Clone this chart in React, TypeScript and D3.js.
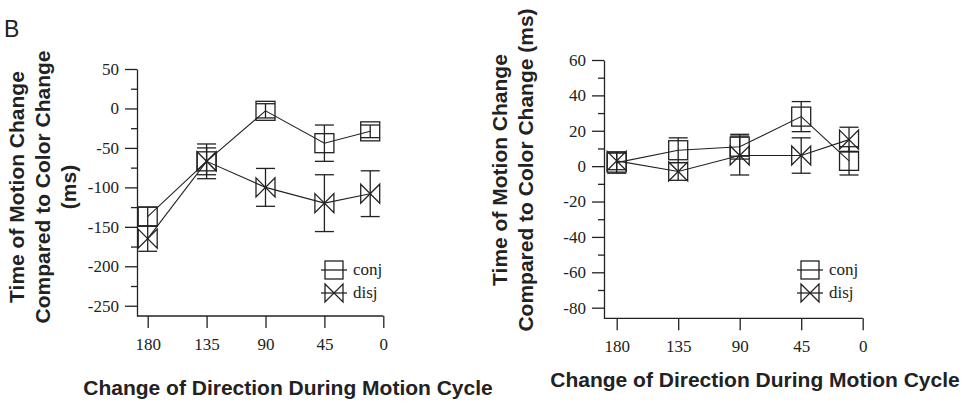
import React, { useEffect, useRef } from "react";
import * as d3 from "d3";

// direction change (deg) for each point
const angles = [180, 135, 90, 45, 10];
const xTickValues = [180, 135, 90, 45, 0];

// panel 1 (left)
const leftConj = [-137, -67, -3, -44, -29];
const leftConjErr = [12, 22, 9, 23, 8];
const leftDisj = [-165, -67, -100, -120, -108];
const leftDisjErr = [16, 17, 24, 36, 29];
const leftYTicks = [50, 0, -50, -100, -150, -200, -250];
const leftYMinor = [25, -25, -75, -125, -175, -225];

// panel 2 (right)
const rightConj = [2, 9, 11, 28, 3];
const rightConjErr = [6, 7, 7, 8.5, 8];
const rightDisj = [3, -3, 6, 6, 15];
const rightDisjErr = [5, 5, 11, 10, 7];
const rightYTicks = [60, 40, 20, 0, -20, -40, -60, -80];
const rightYMinor = [50, 30, 10, -10, -30, -50, -70];

const seriesNames = ["conj", "disj"];

const INK = "#222";
const SERIF = "'Liberation Serif', 'Times New Roman', 'DejaVu Serif', serif";
const SANS = "'Liberation Sans', Arial, sans-serif";

function drawMarker(g, kind, cx, cy, s) {
  const h = s / 2;
  if (kind === "conj") {
    g.append("rect")
      .attr("x", cx - h).attr("y", cy - h)
      .attr("width", s).attr("height", s)
      .attr("fill", "none").attr("stroke", INK).attr("stroke-width", 1.3);
  } else {
    // bow tie
    g.append("path")
      .attr("d", `M${cx - h},${cy - h}L${cx + h},${cy + h}L${cx + h},${cy - h}L${cx - h},${cy + h}Z`)
      .attr("fill", "none").attr("stroke", INK).attr("stroke-width", 1.3);
  }
}

function drawPanel(svg, cfg) {
  const x = d3.scaleLinear().domain([0, 180]).range([cfg.x0, cfg.x180]);
  const y = d3.scaleLinear().domain(cfg.yDomain).range([cfg.yBottom, cfg.yTop]);
  const g = svg.append("g");

  // axes
  const yAxis = g.append("g")
    .attr("transform", `translate(${cfg.axisX},0)`)
    .call(d3.axisLeft(y).tickValues(cfg.yTicks).tickSize(12).tickSizeOuter(0).tickPadding(6));
  g.append("g")
    .attr("transform", `translate(${cfg.axisX},0)`)
    .call(d3.axisLeft(y).tickValues(cfg.yMinor).tickSize(6).tickSizeOuter(0).tickFormat(() => ""))
    .call((a) => a.select(".domain").remove())
    .selectAll("line").attr("stroke", INK).attr("stroke-width", 1.3);

  const xAxis = g.append("g")
    .attr("transform", `translate(0,${cfg.yBottom})`)
    .call(d3.axisBottom(x).tickValues(xTickValues).tickSize(12).tickSizeOuter(0).tickPadding(10));
  xAxis.select(".domain").attr("d", `M${cfg.axisX},0H${x(0)}`);

  [yAxis, xAxis].forEach((a) => {
    a.attr("font-family", SERIF).attr("font-size", 17);
    a.selectAll("line, path").attr("stroke", INK).attr("stroke-width", 1.3);
    a.selectAll("text").attr("font-family", SERIF).attr("font-size", 17).attr("fill", INK);
  });
  yAxis.selectAll("text").text((d) => String(d));

  // series
  const series = [
    { name: "conj", vals: cfg.conj, errs: cfg.conjErr },
    { name: "disj", vals: cfg.disj, errs: cfg.disjErr },
  ];
  const line = d3.line().x((d) => x(d[0])).y((d) => y(d[1]));
  const ms = 19;

  series.forEach((s) => {
    const pts = angles.map((a, i) => [a, s.vals[i]]);
    g.append("path")
      .attr("d", line(pts))
      .attr("fill", "none").attr("stroke", INK).attr("stroke-width", 1.1);

    angles.forEach((a, i) => {
      const cx = x(a);
      const top = y(s.vals[i] + s.errs[i]);
      const bot = y(s.vals[i] - s.errs[i]);
      g.append("line").attr("x1", cx).attr("x2", cx).attr("y1", top).attr("y2", bot)
        .attr("stroke", INK).attr("stroke-width", 1.3);
      [top, bot].forEach((yy) => {
        g.append("line").attr("x1", cx - ms / 2).attr("x2", cx + ms / 2).attr("y1", yy).attr("y2", yy)
          .attr("stroke", INK).attr("stroke-width", 1.3);
      });
      drawMarker(g, s.name, cx, y(s.vals[i]), ms);
    });
  });

  // legend
  seriesNames.forEach((n, i) => {
    const ly = cfg.legendY + i * 23;
    g.append("line").attr("x1", cfg.legendX - 13).attr("x2", cfg.legendX + 13)
      .attr("y1", ly).attr("y2", ly).attr("stroke", INK).attr("stroke-width", 1.3);
    drawMarker(g, n, cfg.legendX, ly, 18);
    g.append("text").attr("x", cfg.legendX + 19).attr("y", ly + 5)
      .attr("font-family", SERIF).attr("font-size", 17).attr("fill", INK).text(n);
  });

  // titles
  g.append("text")
    .attr("x", cfg.xTitleX).attr("y", cfg.xTitleY)
    .attr("text-anchor", "middle")
    .attr("font-family", SANS).attr("font-weight", "bold").attr("font-size", 21).attr("fill", INK)
    .text("Change of Direction During Motion Cycle");

  const yt = g.append("text")
    .attr("transform", `translate(${cfg.yTitleX},${cfg.yTitleY}) rotate(-90)`)
    .attr("text-anchor", "middle")
    .attr("font-family", SANS).attr("font-weight", "bold").attr("font-size", 21).attr("fill", INK);
  cfg.yTitleLines.forEach((t, i) => {
    yt.append("tspan").attr("x", 0).attr("y", i * 26).text(t);
  });
}

export default function App() {
  const ref = useRef(null);

  useEffect(() => {
    const svg = d3.select(ref.current);
    svg.selectAll("*").remove();

    svg.append("text")
      .attr("x", 4).attr("y", 37)
      .attr("font-family", SANS).attr("font-size", 23).attr("fill", INK)
      .text("B");

    drawPanel(svg, {
      x0: 383.3, x180: 147.7, axisX: 137,
      yDomain: [-263, 50], yBottom: 316, yTop: 69,
      yTicks: leftYTicks, yMinor: leftYMinor,
      conj: leftConj, conjErr: leftConjErr, disj: leftDisj, disjErr: leftDisjErr,
      legendX: 334, legendY: 270,
      xTitleX: 288, xTitleY: 395,
      yTitleX: 24, yTitleY: 187,
      yTitleLines: ["Time of Motion Change", "Compared to Color Change", "(ms)"],
    });

    drawPanel(svg, {
      x0: 862.7, x180: 616.7, axisX: 604,
      yDomain: [-86, 60], yBottom: 318.3, yTop: 60,
      yTicks: rightYTicks, yMinor: rightYMinor,
      conj: rightConj, conjErr: rightConjErr, disj: rightDisj, disjErr: rightDisjErr,
      legendX: 810, legendY: 270,
      xTitleX: 755, xTitleY: 387,
      yTitleX: 507, yTitleY: 170,
      yTitleLines: ["Time of Motion Change", "Compared to Color Change (ms)"],
    });
  }, []);

  return (
    <svg
      ref={ref}
      width={972}
      height={403}
      style={{ position: "absolute", left: 0, top: 0, background: "#fff" }}
    />
  );
}
